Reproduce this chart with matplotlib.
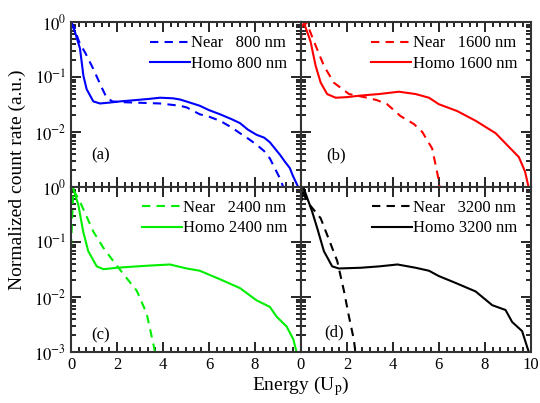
import numpy as np
import matplotlib
matplotlib.use('Agg')
import matplotlib.pyplot as plt
from matplotlib.ticker import MultipleLocator, AutoMinorLocator, LogLocator, NullFormatter

plt.rcParams['font.family'] = ['Liberation Serif', 'DejaVu Serif']
plt.rcParams['mathtext.fontset'] = 'stix'
plt.rcParams['font.size'] = 12

# ------  values (energy in Up, normalized rate)  ------
x_homo_800 = [0, 0.17, 0.39, 0.54, 0.68, 0.97, 1.26, 1.6, 2.13, 2.8, 3.4, 3.87, 4.43, 4.74, 5.1,
              5.6, 6.0, 6.48, 7.0, 7.35, 7.7, 8.07, 8.4, 8.65, 9.1, 9.3, 9.52, 9.65, 9.88]
y_homo_800 = [1.0, 0.66, 0.33, 0.105, 0.060, 0.036, 0.033, 0.034, 0.036, 0.038, 0.040, 0.042, 0.041, 0.039, 0.035,
              0.030, 0.025, 0.021, 0.017, 0.0145, 0.011, 0.0089, 0.0079, 0.0065, 0.0038, 0.0029, 0.0022, 0.0016, 0.0010]
x_near_800 = [0, 0.15, 0.3, 0.39, 0.61, 0.97, 1.33, 1.55, 1.8, 2.13, 3.0, 3.87, 4.74, 5.03, 5.6,
              6.0, 6.48, 7.0, 7.35, 7.7, 8.07, 8.4, 8.65, 9.1, 9.23]
y_near_800 = [1.0, 0.79, 0.50, 0.40, 0.28, 0.14, 0.065, 0.042, 0.036, 0.035, 0.034, 0.033, 0.030, 0.028, 0.021,
              0.019, 0.016, 0.012, 0.0095, 0.0076, 0.0059, 0.0045, 0.0033, 0.0014, 0.001]

x_homo_1600 = [0.12, 0.42, 0.64, 0.86, 1.14, 1.51, 2.0, 2.6, 3.4, 4.26, 4.99, 5.57, 6.0, 6.8,
               7.6, 8.47, 9.04, 9.48, 9.75, 9.9]
y_homo_1600 = [1.0, 0.44, 0.16, 0.079, 0.049, 0.042, 0.043, 0.046, 0.049, 0.054, 0.049, 0.042, 0.032, 0.024,
               0.016, 0.0095, 0.0054, 0.0035, 0.0019, 0.001]
x_near_1600 = [0.0, 0.05, 0.26, 0.57, 1.0, 1.43, 2.09, 2.88, 3.3, 3.75, 4.33, 4.91, 5.28, 5.71, 6.0, 6.03]
y_near_1600 = [0.43, 0.89, 0.95, 0.44, 0.16, 0.079, 0.049, 0.042, 0.038, 0.032, 0.0195, 0.014, 0.010, 0.005,
               0.0013, 0.001]

x_homo_2400 = [0.1, 0.32, 0.53, 0.75, 1.12, 1.41, 2.0, 2.42, 3.3, 4.3, 5.03, 5.6, 6.48, 7.35,
               8.07, 8.65, 8.94, 9.38, 9.67, 9.81]
y_homo_2400 = [0.93, 0.47, 0.155, 0.068, 0.036, 0.032, 0.034, 0.035, 0.037, 0.039, 0.033, 0.030, 0.021, 0.0145,
               0.0087, 0.0066, 0.0044, 0.0029, 0.0017, 0.001]
x_near_2400 = [0.0, 0.1, 0.39, 0.97, 1.41, 1.84, 2.42, 2.86, 3.29, 3.58, 3.65]
y_near_2400 = [0.079, 0.89, 0.54, 0.155, 0.078, 0.045, 0.022, 0.013, 0.005, 0.0014, 0.001]

x_homo_3200 = [0.05, 0.13, 0.49, 0.71, 1.0, 1.36, 1.65, 2.6, 3.4, 4.2, 4.99, 5.57, 6.0, 6.73,
               7.6, 8.32, 8.9, 9.19, 9.62, 9.91]
y_homo_3200 = [1.0, 0.93, 0.355, 0.178, 0.068, 0.036, 0.033, 0.034, 0.036, 0.039, 0.034, 0.030, 0.024, 0.018,
               0.0126, 0.0071, 0.0058, 0.0035, 0.0024, 0.001]
x_near_3200 = [0.0, 0.05, 0.27, 0.86, 1.14, 1.58, 1.87, 2.09, 2.3, 2.37]
y_near_3200 = [0.3, 0.9, 0.54, 0.27, 0.135, 0.045, 0.013, 0.0044, 0.0017, 0.001]

wavelengths = ['800', '1600', '2400', '3200']
colors = ['#0000ff', '#ff0000', '#00ee00', 'black']
panel_tags = ['(a)', '(b)', '(c)', '(d)']
tag_pos = [(0.09, 0.19), (0.11, 0.19), (0.087, 0.10), (0.10, 0.12)]
near_x = [x_near_800, x_near_1600, x_near_2400, x_near_3200]
near_y = [y_near_800, y_near_1600, y_near_2400, y_near_3200]
homo_x = [x_homo_800, x_homo_1600, x_homo_2400, x_homo_3200]
homo_y = [y_homo_800, y_homo_1600, y_homo_2400, y_homo_3200]

fig, axes = plt.subplots(2, 2, figsize=(5.4, 4.03), dpi=100)
fig.subplots_adjust(left=0.1315, right=0.983, top=0.9454, bottom=0.1266, hspace=0, wspace=0)

for k, ax in enumerate(axes.flat):
    ax.plot(near_x[k], near_y[k], '--', color=colors[k], lw=1.5, dashes=(4, 3),
            label='Near   %s nm' % wavelengths[k])
    ax.plot(homo_x[k], homo_y[k], '-', color=colors[k], lw=1.5,
            label='Homo %s nm' % wavelengths[k])
    ax.set_yscale('log')
    ax.set_xlim(0, 10)
    ax.set_ylim(1e-3, 1)
    ax.xaxis.set_major_locator(MultipleLocator(2))
    ax.xaxis.set_minor_locator(AutoMinorLocator(6))
    ax.yaxis.set_major_locator(LogLocator(base=10, numticks=10))
    ax.yaxis.set_minor_locator(LogLocator(base=10, subs=np.arange(2, 10), numticks=10))
    ax.yaxis.set_minor_formatter(NullFormatter())
    ax.tick_params(which='both', direction='in', top=True, right=True, width=1.2, labelsize=12)
    ax.tick_params(which='major', length=7)
    ax.tick_params(which='minor', length=3.5)
    for s in ax.spines.values():
        s.set_linewidth(1.5)
        s.set_color('#333333')
    ax.legend(loc='upper right', frameon=False, handlelength=2.4, handletextpad=0.1,
              labelspacing=0.25, borderaxespad=0.4, fontsize=12)
    ax.text(tag_pos[k][0], tag_pos[k][1], panel_tags[k], transform=ax.transAxes, fontsize=12, va='center')

    row, col = divmod(k, 2)
    if col == 1:
        ax.set_yticklabels([])
    else:
        ax.set_yticks([1e-3, 1e-2, 1e-1, 1],
                      labels=['' if row == 0 else r'$10^{-3}$', r'$10^{-2}$', r'$10^{-1}$', r'$10^{0}$'])
    if row == 0:
        ax.set_xticklabels([])
    elif col == 0:
        ax.set_xticks([0, 2, 4, 6, 8, 10], labels=['0', '2', '4', '6', '8', ''])

fig.text(0.033, 0.553, 'Normalized count rate (a.u.)', rotation=90, ha='center', va='center', fontsize=14)
fig.text(0.557, 0.042, r'Energy (U$_\mathrm{p}$)', ha='center', va='center', fontsize=14)

plt.savefig('out.png', dpi=100)
